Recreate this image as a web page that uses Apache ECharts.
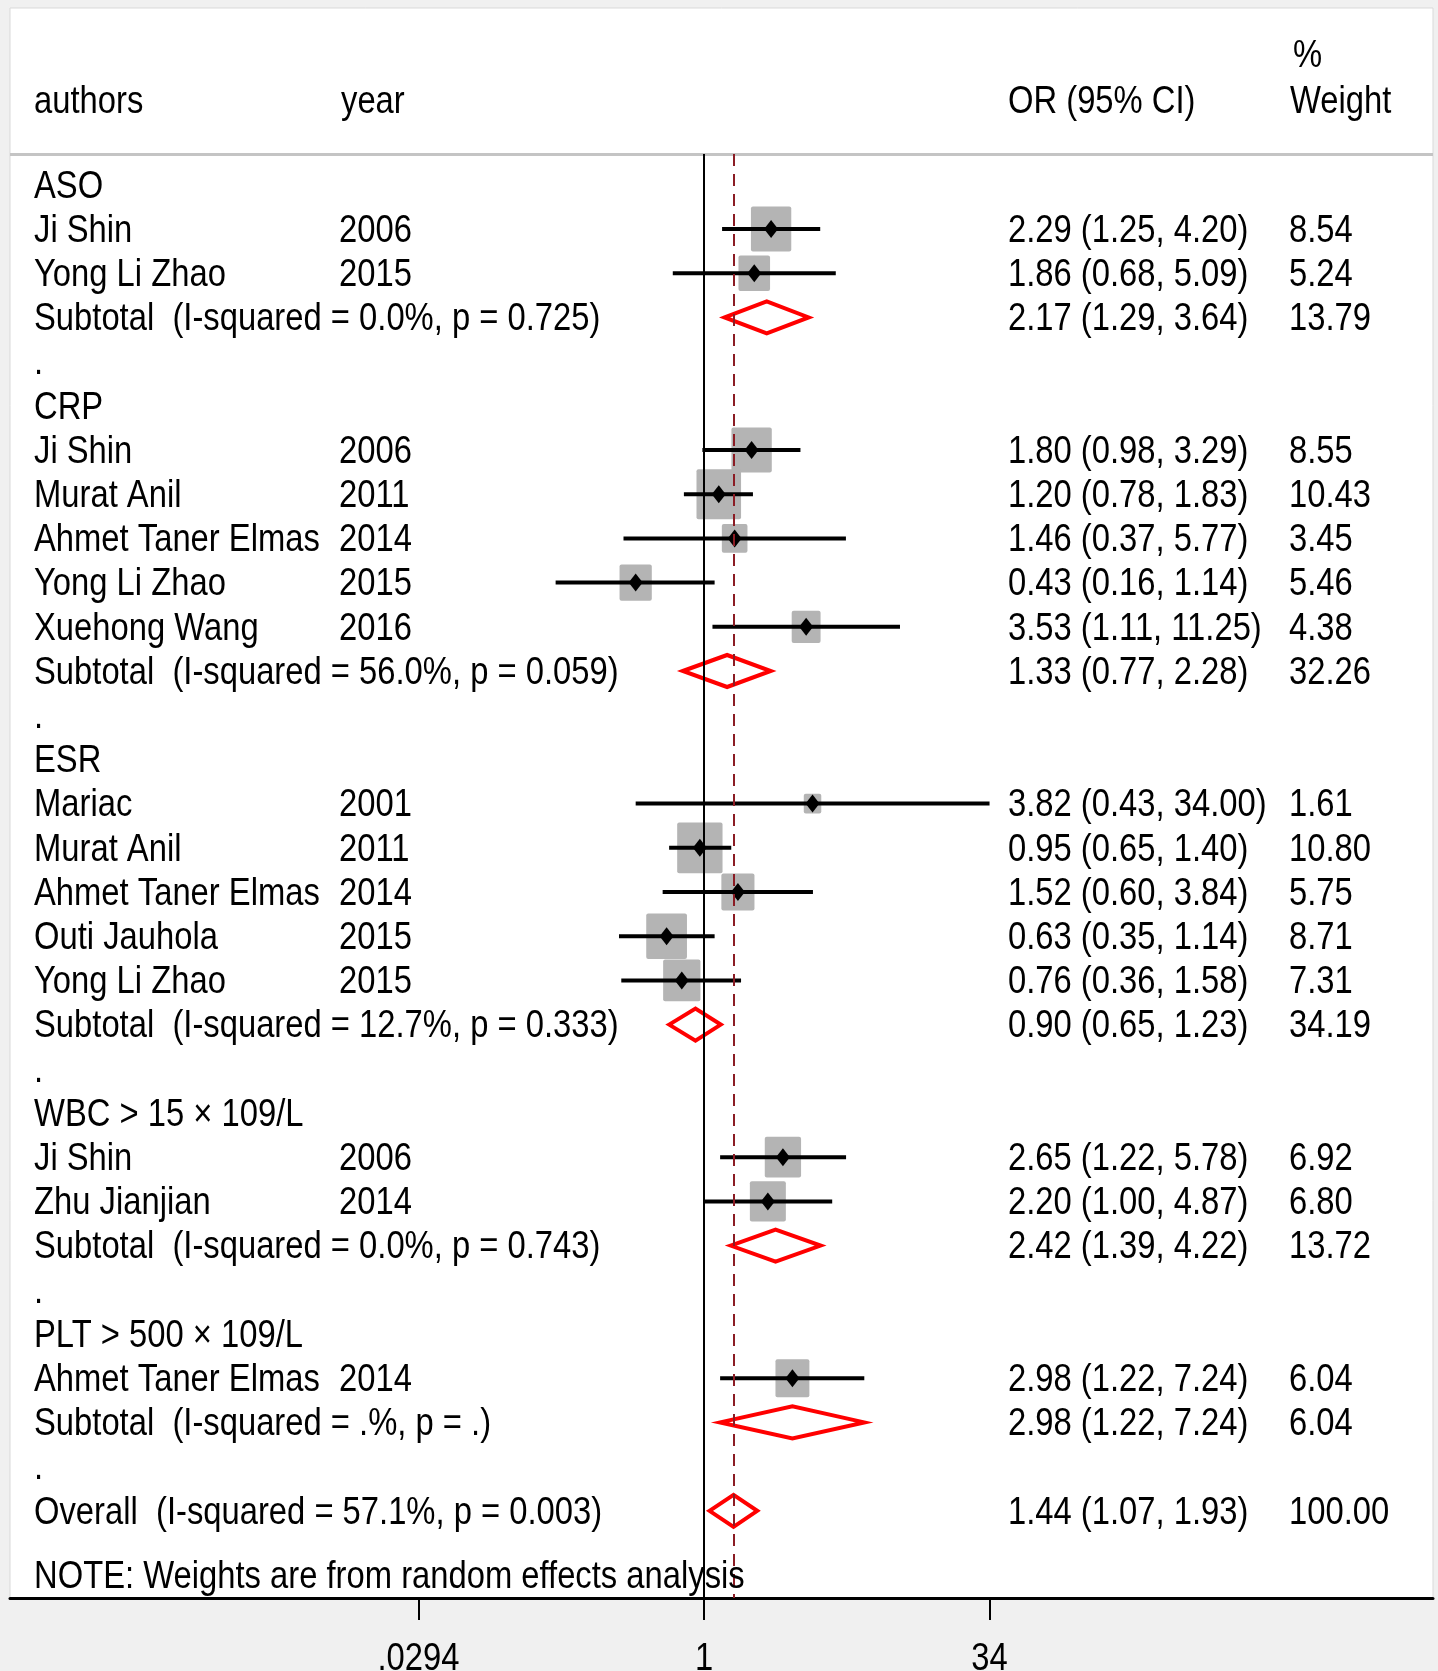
<!DOCTYPE html>
<html>
<head>
<meta charset="utf-8">
<script src="https://cdn.jsdelivr.net/npm/echarts@6/dist/echarts.min.js"></script>
<style>
  html, body { margin: 0; padding: 0; background: #f0f0f0; }
  #chart { width: 1438px; height: 1671px; }
</style>
</head>
<body>
<div id="chart"></div>
<script>
// ---- Forest plot data: odds ratios of inflammatory markers by study ----
const HEADERS = ['authors', 'year', 'OR (95% CI)', '%', 'Weight'];

const LABELS = [
  'ASO', 'Ji Shin', 'Yong Li Zhao', 'Subtotal  (I-squared = 0.0%, p = 0.725)', '.',
  'CRP', 'Ji Shin', 'Murat Anil', 'Ahmet Taner Elmas', 'Yong Li Zhao', 'Xuehong Wang',
  'Subtotal  (I-squared = 56.0%, p = 0.059)', '.',
  'ESR', 'Mariac', 'Murat Anil', 'Ahmet Taner Elmas', 'Outi Jauhola', 'Yong Li Zhao',
  'Subtotal  (I-squared = 12.7%, p = 0.333)', '.',
  'WBC > 15 × 109/L', 'Ji Shin', 'Zhu Jianjian', 'Subtotal  (I-squared = 0.0%, p = 0.743)', '.',
  'PLT > 500 × 109/L', 'Ahmet Taner Elmas', 'Subtotal  (I-squared = .%, p = .)', '.',
  'Overall  (I-squared = 57.1%, p = 0.003)'
];
const YEARS = [
  '', '2006', '2015', '', '',
  '', '2006', '2011', '2014', '2015', '2016', '', '',
  '', '2001', '2011', '2014', '2015', '2015', '', '',
  '', '2006', '2014', '', '',
  '', '2014', '', '',
  ''
];
// row kind: g = group heading, s = study, p = pooled estimate, d = spacer
const KIND = [
  'g', 's', 's', 'p', 'd',
  'g', 's', 's', 's', 's', 's', 'p', 'd',
  'g', 's', 's', 's', 's', 's', 'p', 'd',
  'g', 's', 's', 'p', 'd',
  'g', 's', 'p', 'd',
  'p'
];
const OR = [
  null, 2.29, 1.86, 2.17, null,
  null, 1.80, 1.20, 1.46, 0.43, 3.53, 1.33, null,
  null, 3.82, 0.95, 1.52, 0.63, 0.76, 0.90, null,
  null, 2.65, 2.20, 2.42, null,
  null, 2.98, 2.98, null,
  1.44
];
const LO = [
  null, 1.25, 0.68, 1.29, null,
  null, 0.98, 0.78, 0.37, 0.16, 1.11, 0.77, null,
  null, 0.43, 0.65, 0.60, 0.35, 0.36, 0.65, null,
  null, 1.22, 1.00, 1.39, null,
  null, 1.22, 1.22, null,
  1.07
];
const HI = [
  null, 4.20, 5.09, 3.64, null,
  null, 3.29, 1.83, 5.77, 1.14, 11.25, 2.28, null,
  null, 34.00, 1.40, 3.84, 1.14, 1.58, 1.23, null,
  null, 5.78, 4.87, 4.22, null,
  null, 7.24, 7.24, null,
  1.93
];
const WEIGHT = [
  null, 8.54, 5.24, 13.79, null,
  null, 8.55, 10.43, 3.45, 5.46, 4.38, 32.26, null,
  null, 1.61, 10.80, 5.75, 8.71, 7.31, 34.19, null,
  null, 6.92, 6.80, 13.72, null,
  null, 6.04, 6.04, null,
  100.00
];
const NOTE = 'NOTE: Weights are from random effects analysis';
const TICK_VALUES = [0.0294, 1, 34];
const TICK_LABELS = ['.0294', '1', '34'];

// ---- layout & style ----
const FONT_FAMILY = '"Liberation Sans", Arial, sans-serif';
const FS = 39;
const FONT = FS + 'px ' + FONT_FAMILY;
const NARROW = 0.84;          // horizontal squeeze of the text face
const TEXT_DY = 2;            // baseline nudge so glyphs sit centred on the row
const COL = { author: 34, year: 339, ci: 1008, weight: 1289 };
const PANEL = { left: 10, top: 8, right: 1433, bottom: 1598 };
const HEADER_LINE_Y = 155;
const NOTE_ROW = 31.45;
const OVERALL_ROW = KIND.length - 1;

const fmt = v => v.toFixed(2);

const studyData = [];
const pooledData = [];
const textData = [];
KIND.forEach((k, i) => {
  textData.push([1, i]);
  if (k === 's') studyData.push([OR[i], i, LO[i], HI[i], WEIGHT[i]]);
  if (k === 'p') pooledData.push([OR[i], i, LO[i], HI[i]]);
});

function txt(x, y, s, align) {
  return {
    type: 'text', x: x, y: y + TEXT_DY, scaleX: NARROW, scaleY: 1,
    style: { text: s, fill: '#000', font: FONT, textAlign: align || 'left', textVerticalAlign: 'middle' }
  };
}
function headerText(x, y, s) {
  return {
    type: 'text', x: x, y: y, scaleX: NARROW, scaleY: 1, z: 6,
    style: { text: s, fill: '#000', font: FONT, textAlign: 'left', textVerticalAlign: 'middle' }
  };
}

const chart = echarts.init(document.getElementById('chart'), null, { renderer: 'canvas' });

chart.setOption({
  animation: false,
  backgroundColor: '#f0f0f0',
  graphic: [
    { type: 'rect', z: -10, silent: true,
      shape: { x: PANEL.left, y: PANEL.top, width: PANEL.right - PANEL.left, height: PANEL.bottom - PANEL.top },
      style: { fill: '#fff', stroke: '#d9d9d9', lineWidth: 1 } },
    { type: 'rect', z: 5, silent: true,
      shape: { x: PANEL.left, y: HEADER_LINE_Y - 2, width: PANEL.right - PANEL.left, height: 3 },
      style: { fill: '#c4c4c4' } },
    headerText(COL.author, 102, HEADERS[0]),
    headerText(341, 102, HEADERS[1]),
    headerText(COL.ci, 102, HEADERS[2]),
    headerText(1293, 56, HEADERS[3]),
    headerText(1290, 102, HEADERS[4])
  ],
  grid: {
    left: PANEL.left, right: 1438 - PANEL.right,
    top: HEADER_LINE_Y - 1, bottom: 1671 - PANEL.bottom,
    containLabel: false, show: false
  },
  xAxis: {
    type: 'log',
    logBase: 10,
    min: Math.exp(-8.571),
    max: Math.exp(9.003),
    splitLine: { show: false },
    axisLine: { show: true, onZero: false, lineStyle: { color: '#000', width: 3 } },
    axisTick: { show: true, inside: false, length: 22, lineStyle: { color: '#000', width: 2 }, customValues: TICK_VALUES },
    axisLabel: { show: false }
  },
  yAxis: {
    type: 'value', inverse: true, show: false,
    min: (HEADER_LINE_Y - 1 - 184.8) / 44.2,
    max: (PANEL.bottom - 184.8) / 44.2
  },
  series: [
    // reference lines: null effect and overall estimate
    {
      type: 'scatter', data: [], z: 1, silent: true,
      markLine: {
        silent: true, symbol: ['none', 'none'], label: { show: false },
        data: [
          { xAxis: 1, lineStyle: { color: '#000', width: 2, type: 'solid' } },
          { xAxis: OR[OVERALL_ROW], lineStyle: { color: '#8b1c24', width: 2, type: [12, 8] } }
        ]
      }
    },
    // study weights (squares), confidence intervals and point estimates
    {
      type: 'custom', z: 3, silent: true,
      data: studyData,
      encode: { x: [0, 2, 3], y: 1 },
      renderItem: function (params, api) {
        const row = api.value(1);
        const c = api.coord([api.value(0), row]);
        const l = api.coord([api.value(2), row]);
        const h = api.coord([api.value(3), row]);
        const w = 13.8 * Math.sqrt(api.value(4));
        const hh = w * 1.12;
        return {
          type: 'group',
          children: [
            { type: 'rect', shape: { x: c[0] - w / 2, y: c[1] - hh / 2, width: w, height: hh, r: 2 },
              style: { fill: '#b4b4b4' } },
            { type: 'line', shape: { x1: l[0], y1: c[1], x2: h[0], y2: c[1] },
              style: { stroke: '#000', lineWidth: 4 } },
            { type: 'polygon', shape: { points: [[c[0] - 7, c[1]], [c[0], c[1] - 9], [c[0] + 7, c[1]], [c[0], c[1] + 9]] },
              style: { fill: '#000' } }
          ]
        };
      }
    },
    // pooled estimates (diamonds)
    {
      type: 'custom', z: 4, silent: true,
      data: pooledData,
      encode: { x: [0, 2, 3], y: 1 },
      renderItem: function (params, api) {
        const row = api.value(1);
        const c = api.coord([api.value(0), row]);
        const l = api.coord([api.value(2), row]);
        const h = api.coord([api.value(3), row]);
        const d = 16;
        return {
          type: 'polygon',
          shape: { points: [[l[0], c[1]], [c[0], c[1] - d], [h[0], c[1]], [c[0], c[1] + d]] },
          style: { fill: 'none', stroke: '#ff0000', lineWidth: 4, lineJoin: 'miter' }
        };
      }
    },
    // row texts: labels, years, estimates and weights
    {
      type: 'custom', z: 6, silent: true,
      data: textData,
      encode: { x: 0, y: 1 },
      renderItem: function (params, api) {
        const i = params.dataIndex;
        const y = api.coord([1, api.value(1)])[1];
        const kids = [txt(COL.author, y, LABELS[i])];
        if (YEARS[i]) kids.push(txt(COL.year, y, YEARS[i]));
        if (OR[i] != null) {
          kids.push(txt(COL.ci, y, fmt(OR[i]) + ' (' + fmt(LO[i]) + ', ' + fmt(HI[i]) + ')'));
          kids.push(txt(COL.weight, y, fmt(WEIGHT[i])));
        }
        return { type: 'group', children: kids };
      }
    },
    // footnote
    {
      type: 'custom', z: 6, silent: true,
      data: [[1, NOTE_ROW]],
      encode: { x: 0, y: 1 },
      renderItem: function (params, api) {
        const y = api.coord([1, api.value(1)])[1];
        return txt(COL.author, y, NOTE);
      }
    },
    // tick labels under the axis, placed at their axis values
    {
      type: 'custom', z: 6, silent: true,
      data: TICK_VALUES.map((v, i) => [v, 0, i]),
      encode: { x: 0, y: 1 },
      renderItem: function (params, api) {
        const x = api.coord([api.value(0), 0])[0];
        const cs = params.coordSys;
        const lab = TICK_LABELS[api.value(2)];
        return txt(x, cs.y + cs.height + 59, lab, 'center');
      }
    }
  ]
});
</script>
</body>
</html>
